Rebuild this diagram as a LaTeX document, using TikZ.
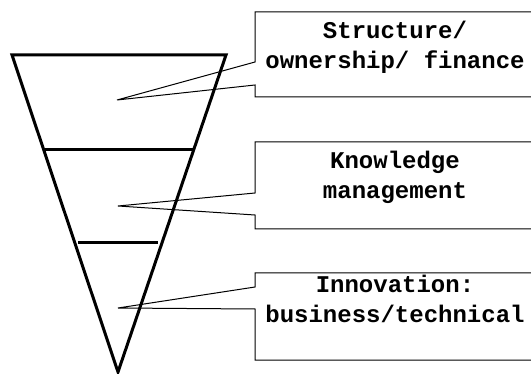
\documentclass[tikz,border=0pt]{standalone}
\usepackage{fontspec}
\usepackage{tikz}
\newfontfamily\boxfont{Liberation Mono}

\begin{document}
\begin{tikzpicture}[x=0.5pt,y=-0.5pt,
	funnel/.style={line width=1.5pt},
	callout/.style={line width=0.5pt},
	lbl/.style={font=\boxfont\bfseries\fontsize{12}{15}\selectfont,align=center}]
			\useasboundingbox (0,0) rectangle (531,374);
			
			% funnel
			\coordinate (tl) at (12,55);
			\coordinate (tr) at (226,55);
			\coordinate (apex) at (118,372);
			\draw[funnel] (tl) -- (tr) -- (apex) -- cycle;
			\draw[funnel] (44,150) -- (194,150);
			\draw[funnel] (78,243) -- (158,243);
			
			% pointer tips
			\coordinate (t1) at (117,100);
			\coordinate (t2) at (118,206);
			\coordinate (t3) at (118,308);
			
			% callout boxes
			\draw[callout] (540,12) -- (255,12) -- (255,62) -- (t1) -- (255,85) -- (255,97) -- (540,97);
			\draw[callout] (540,142) -- (255,142) -- (255,193) -- (t2) -- (255,215) -- (255,229) -- (540,229);
			\draw[callout] (540,273) -- (255,273) -- (255,287) -- (t3) -- (255,309) -- (255,360) -- (540,360);
			
			\node[lbl] (s1) at (395,47.5) {Structure/\\ownership/ finance};
			\node[lbl] (s2) at (395,177.5) {Knowledge\\management};
			\node[lbl] (s3) at (395,299) {Innovation:\\business/technical};
		\end{tikzpicture}
\end{document}
